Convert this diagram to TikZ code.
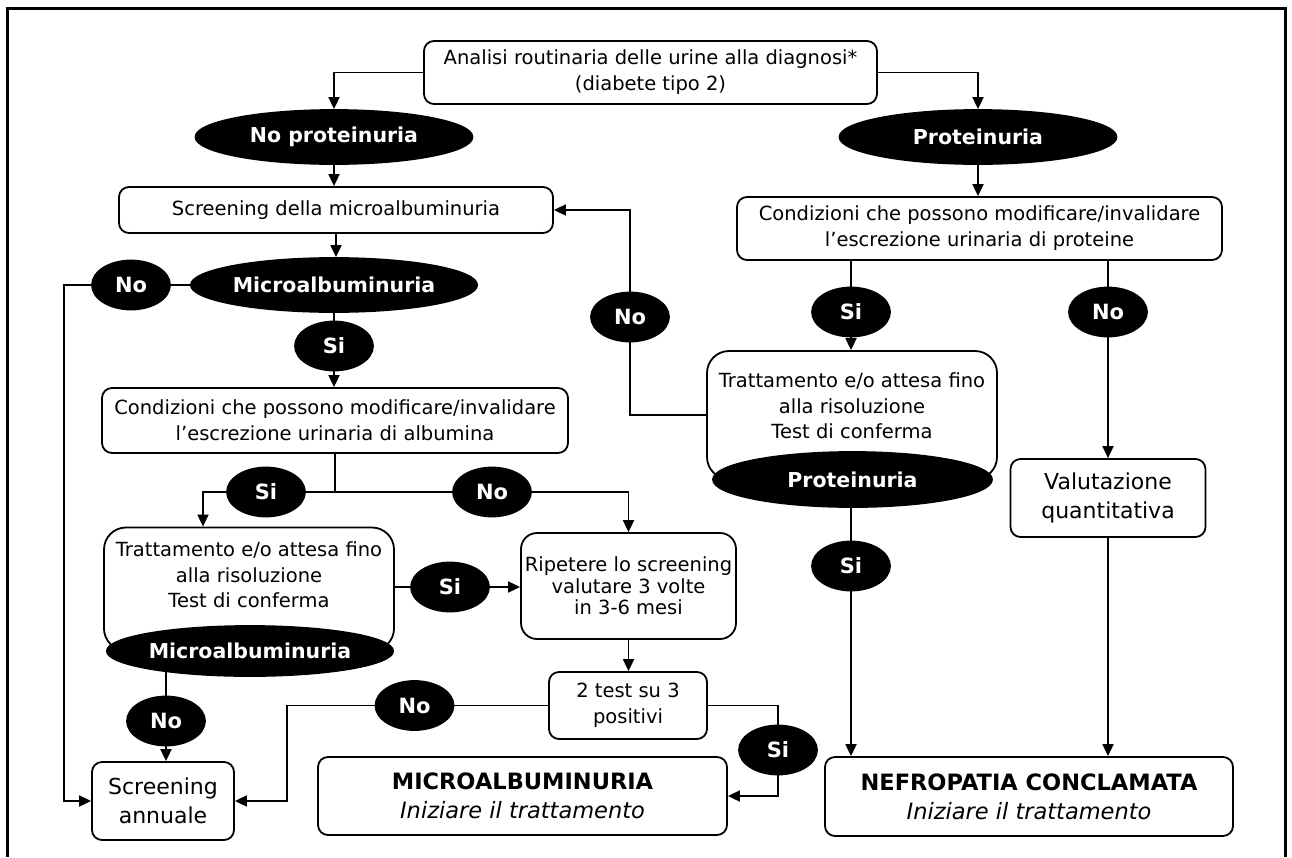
\documentclass[tikz,border=0pt]{standalone}
\usepackage{fontspec}
\setmainfont{DejaVu Sans}
\usetikzlibrary{shapes.geometric,arrows.meta,backgrounds}
\begin{document}
\begin{tikzpicture}[x=1pt,y=-1pt,
  lw/.style={line width=1.8pt},
  box/.style={draw,lw,fill=white,rounded corners=10pt,align=center,inner sep=0pt,
    font=\fontsize{19.5}{26}\selectfont},
  bigbox/.style={box,font=\fontsize{22}{29}\selectfont},
  txt/.style={align=center,inner sep=0pt,font=\fontsize{19.5}{25.5}\selectfont},
  oval/.style={ellipse,draw,lw,fill=black,text=white,inner sep=0pt,
    minimum width=277pt,minimum height=54pt,font=\fontsize{20.5}{24}\bfseries},
  bub/.style={ellipse,draw,lw,fill=black,text=white,inner sep=0pt,
    minimum width=78pt,minimum height=49pt,font=\fontsize{21}{24}\bfseries},
  conn/.style={lw},
  arr/.style={lw,-{Triangle[length=12pt,width=11pt]}},
]
\useasboundingbox (0,0) rectangle (1292,857);
\draw[line width=3pt] (7.5,857) -- (7.5,8) -- (1285,8) -- (1285,857);

% nodes
\node[box,minimum width=453pt,minimum height=63pt] (top) at (650.5,72.5)
  {Analisi routinaria delle urine alla diagnosi*\\(diabete tipo 2)};
\node[oval] (noprot) at (334,137) {No proteinuria};
\node[oval] (prot) at (978,137) {Proteinuria};
\node[box,minimum width=434pt,minimum height=46pt] (screen) at (336,210)
  {Screening della microalbuminuria};
\node[box,minimum width=485pt,minimum height=63pt] (condP) at (979.5,228.5)
  {Condizioni che possono modificare/invalidare\\l’escrezione urinaria di proteine};
\node[oval] (micro1) at (334,285) {Microalbuminuria};
\node[bub] (no1) at (131,285) {No};
\node[bub] (si1) at (334,346) {Si};
\node[box,minimum width=466pt,minimum height=65pt] (condA) at (335,420.5)
  {Condizioni che possono modificare/invalidare\\l’escrezione urinaria di albumina};
\node[bub] (siP) at (851,312) {Si};
\node[bub] (noP) at (1108,312) {No};
\node[bub] (noL) at (630,317) {No};
\node[box,rounded corners=22pt,minimum width=290pt,minimum height=128pt] (tratP) at (852,415) {};
\node[txt] (tratPt) at (852,406) {Trattamento e/o attesa fino\\alla risoluzione\\Test di conferma};
\node[oval,minimum width=279pt,minimum height=55pt] (protE) at (852.5,479.5) {Proteinuria};
\node[bigbox,minimum width=195pt,minimum height=78pt] (val) at (1108,498)
  {Valutazione\\quantitativa};
\node[bub] (siP2) at (851,566) {Si};
\node[bigbox,minimum width=408pt,minimum height=79pt] (nefro) at (1029,796.5)
  {{\fontsize{22.5}{29}\bfseries NEFROPATIA CONCLAMATA}\\{\fontsize{22.5}{29}\itshape Iniziare il trattamento}};
\node[bub] (siA) at (266,492) {Si};
\node[bub] (noA) at (492,492) {No};
\node[box,rounded corners=22pt,minimum width=290pt,minimum height=123pt] (tratA) at (249,589) {};
\node[txt] (tratAt) at (249,575) {Trattamento e/o attesa fino\\alla risoluzione\\Test di conferma};
\node[oval,minimum width=276pt,minimum height=50pt] (microE) at (250,651) {Microalbuminuria};
\node[bub] (siR) at (450,587) {Si};
\node[box,rounded corners=16pt,minimum width=215pt,minimum height=106pt,
  font=\fontsize{19.5}{21.5}\selectfont] (rip) at (628.5,586)
  {Ripetere lo screening\\valutare 3 volte\\in 3-6 mesi};
\node[box,minimum width=158pt,minimum height=67pt] (test) at (628,705.5)
  {2 test su 3\\positivi};
\node[bub] (noT) at (414.5,705.5) {No};
\node[bub] (noM) at (166,721) {No};
\node[bigbox,minimum width=142pt,minimum height=78pt] (annual) at (163,801)
  {Screening\\annuale};
\node[bub] (siT) at (778,750) {Si};
\node[bigbox,minimum width=409pt,minimum height=78pt] (microbox) at (522.5,796)
  {{\fontsize{22.5}{29}\bfseries MICROALBUMINURIA}\\{\fontsize{22.5}{29}\itshape Iniziare il trattamento}};

\coordinate (L) at (64,285);

\begin{pgfonlayer}{background}
\draw[arr] (top.west) -| (noprot.north);
\draw[arr] (top.east) -| (prot.north);
\draw[arr] (noprot.south) -- (noprot.south |- screen.north);
\draw[arr] (prot.south) -- (prot.south |- condP.north);
\draw[arr] (screen.south) -- (screen.south |- micro1.north);
\draw[conn] (micro1.center) -- (no1.center);
\draw[arr] (no1.west) -- (L) |- (annual.west);
\draw[conn] (micro1.south) -- (si1.north);
\draw[arr] (si1.south) -- (si1.south |- condA.north);
\draw[conn] (condA.south) |- (siA.east);
\draw[conn] (condA.south) |- (noA.west);
\draw[arr] (siA.west) -| ([xshift=-46pt]tratA.north);
\draw[arr] (noA.east) -| (rip.north);
\draw[conn] (tratA.east |- siR.west) -- (siR.west);
\draw[arr] (siR.east) -- (siR.east -| rip.west);
\draw[conn] (noM.center) -- (noM.center |- microE.center);
\draw[arr] (noM.south) -- (noM.south |- annual.north);
\draw[arr] (rip.south) -- (rip.south |- test.north);
\draw[conn] (test.west) -- (noT.east);
\draw[arr] (noT.west) -| ([xshift=52pt]annual.east) -- (annual.east);
\draw[conn] (test.east) -| (siT.north);
\draw[arr] (siT.south) |- (microbox.east);
\draw[conn] (siP.north) -- (siP.north |- condP.south);
\draw[arr] (siP.south) -- (siP.south |- tratP.north);
\draw[conn] (noP.north) -- (noP.north |- condP.south);
\draw[arr] (noP.south) -- (noP.south |- val.north);
\draw[arr] (val.south) -- (val.south |- nefro.north);
\draw[conn] (siP2.center |- protE.center) -- (siP2.center);
\draw[arr] (siP2.south) -- (siP2.south |- nefro.north);
\draw[conn] (tratP.west) -| (noL.south);
\draw[arr] (noL.north) |- (screen.east);
\end{pgfonlayer}
\end{tikzpicture}
\end{document}
